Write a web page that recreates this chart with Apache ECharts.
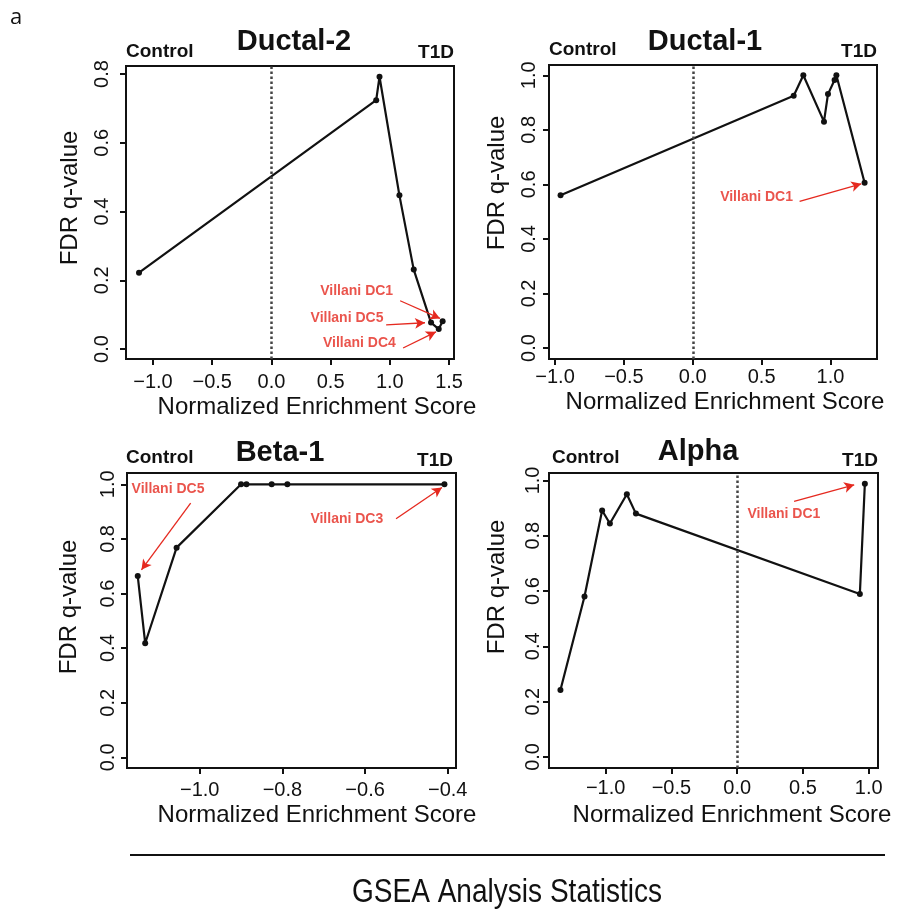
<!DOCTYPE html>
<html>
<head>
<meta charset="utf-8">
<script src="https://cdn.jsdelivr.net/npm/echarts@6/dist/echarts.min.js"></script>
<style>
  html, body { margin: 0; padding: 0; background: #fff; }
  #chart { width: 900px; height: 911px; }
</style>
</head>
<body>
<div id="chart"></div>
<script>
// normalized enrichment score (x) and FDR q-value (y)
const ductal2Nes = [-1.118, 0.885, 0.913, 1.081, 1.202, 1.348, 1.413, 1.446];
const ductal2Fdr = [0.222, 0.724, 0.792, 0.447, 0.231, 0.077, 0.058, 0.081];
const ductal1Nes = [-0.960, 0.733, 0.803, 0.953, 0.982, 1.030, 1.043, 1.248];
const ductal1Fdr = [0.560, 0.925, 1.000, 0.830, 0.931, 0.983, 1.000, 0.606];
const beta1Nes = [-1.150, -1.132, -1.056, -0.900, -0.887, -0.826, -0.788, -0.408];
const beta1Fdr = [0.664, 0.418, 0.768, 1.000, 1.000, 1.000, 1.000, 1.000];
const alphaNes = [-1.344, -1.161, -1.027, -0.968, -0.839, -0.770, 0.933, 0.971];
const alphaFdr = [0.242, 0.580, 0.891, 0.844, 0.950, 0.880, 0.589, 0.988];

// tick labels
const ticksHalf = [-1.0, -0.5, 0.0, 0.5, 1.0];
const ticksHalfWide = [-1.0, -0.5, 0.0, 0.5, 1.0, 1.5];
const ticksBetaX = [-1.0, -0.8, -0.6, -0.4];
const ticksFdr08 = [0.0, 0.2, 0.4, 0.6, 0.8];
const ticksFdr10 = [0.0, 0.2, 0.4, 0.6, 0.8, 1.0];

const FONT = "'Liberation Sans', Arial, sans-serif";
const RED = "#e5291f";

const panels = [
  {
    title: "Ductal-2", nes: ductal2Nes, fdr: ductal2Fdr,
    xTicks: ticksHalfWide, yTicks: ticksFdr08, zeroLine: true,
    grid: { left: 126, top: 66, width: 328, height: 293 },
    xRange: [-1.228, 1.542], yRange: [-0.029, 0.8233],
    xMargin: 13, yMargin: 14,
    titlePos: [294, 42], controlPos: [126, 52], t1dPos: [454, 53],
    xNamePos: [317, 407], yNamePos: [70, 198],
    notes: [
      { text: "Villani DC1", at: [1.028, 0.169], side: "left", from: [1.087, 0.1405], to: [1.424, 0.089] },
      { text: "Villani DC5", at: [0.946, 0.090], side: "left", from: [0.969, 0.070], to: [1.297, 0.0765] },
      { text: "Villani DC4", at: [1.051, 0.017], side: "left", from: [1.112, 0.003], to: [1.390, 0.050] }
    ]
  },
  {
    title: "Ductal-1", nes: ductal1Nes, fdr: ductal1Fdr,
    xTicks: ticksHalf, yTicks: ticksFdr10, zeroLine: true,
    grid: { left: 549, top: 65, width: 328, height: 294 },
    xRange: [-1.044, 1.338], yRange: [-0.0403, 1.0378],
    xMargin: 8, yMargin: 10,
    titlePos: [705, 42], controlPos: [549, 50], t1dPos: [877, 52],
    xNamePos: [725, 402], yNamePos: [497, 183],
    notes: [
      { text: "Villani DC1", at: [0.728, 0.554], side: "left", from: [0.776, 0.538], to: [1.224, 0.602] }
    ]
  },
  {
    title: "Beta-1", nes: beta1Nes, fdr: beta1Fdr,
    xTicks: ticksBetaX, yTicks: ticksFdr10, zeroLine: false,
    grid: { left: 127, top: 473, width: 329, height: 295 },
    xRange: [-1.176, -0.380], yRange: [-0.0389, 1.0414],
    xMargin: 12, yMargin: 9,
    titlePos: [280, 453], controlPos: [126, 458], t1dPos: [453, 461],
    xNamePos: [317, 815], yNamePos: [69, 607],
    notes: [
      { text: "Villani DC5", at: [-1.165, 0.981], side: "right", from: [-1.022, 0.931], to: [-1.141, 0.687] },
      { text: "Villani DC3", at: [-0.556, 0.871], side: "left", from: [-0.525, 0.874], to: [-0.414, 0.988] }
    ]
  },
  {
    title: "Alpha", nes: alphaNes, fdr: alphaFdr,
    xTicks: ticksHalf, yTicks: ticksFdr10, zeroLine: true,
    grid: { left: 549, top: 473, width: 329, height: 295 },
    xRange: [-1.431, 1.071], yRange: [-0.0399, 1.0268],
    xMargin: 10, yMargin: 6,
    titlePos: [698, 452], controlPos: [552, 458], t1dPos: [878, 461],
    xNamePos: [732, 815], yNamePos: [497, 587],
    notes: [
      { text: "Villani DC1", at: [0.078, 0.879], side: "right", from: [0.433, 0.924], to: [0.890, 0.984] }
    ]
  }
];

function fmt(v) {
  return (v < 0 ? "\u2212" : "") + Math.abs(v).toFixed(1);
}

const grids = [], xAxes = [], yAxes = [], series = [], graphics = [];

panels.forEach((p, i) => {
  grids.push(Object.assign({ show: true, borderColor: "#111", borderWidth: 2, backgroundColor: "transparent" }, p.grid));

  xAxes.push({
    type: "value", gridIndex: i, min: p.xRange[0], max: p.xRange[1],
    position: "bottom",
    splitLine: { show: false },
    axisLine: { show: false, onZero: false },
    axisTick: { show: true, inside: false, customValues: p.xTicks, length: 6, lineStyle: { color: "#111", width: 2 } },
    axisLabel: { customValues: p.xTicks, formatter: fmt, fontFamily: FONT, fontSize: 20, color: "#111", margin: p.xMargin }
  });
  yAxes.push({
    type: "value", gridIndex: i, min: p.yRange[0], max: p.yRange[1],
    position: "left",
    splitLine: { show: false },
    axisLine: { show: false, onZero: false },
    axisTick: { show: true, inside: false, customValues: p.yTicks, length: 6, lineStyle: { color: "#111", width: 2 } },
    axisLabel: { customValues: p.yTicks, formatter: fmt, rotate: 90, fontFamily: FONT, fontSize: 20, color: "#111", margin: p.yMargin }
  });

  const line = {
    type: "line", xAxisIndex: i, yAxisIndex: i,
    data: p.nes.map((x, k) => [x, p.fdr[k]]),
    symbol: "circle", symbolSize: 6,
    itemStyle: { color: "#111" },
    lineStyle: { color: "#111", width: 2.2 },
    silent: true, animation: false, z: 3
  };
  if (p.zeroLine) {
    line.markLine = {
      silent: true, symbol: "none", animation: false,
      label: { show: false },
      lineStyle: { type: [2.5, 2.5], color: "#444", width: 2.5 },
      data: [{ xAxis: 0 }]
    };
  }
  series.push(line);

  // red annotation labels with arrows
  series.push({
    type: "scatter", xAxisIndex: i, yAxisIndex: i,
    symbolSize: 0, silent: true, animation: false,
    data: p.notes.map(n => ({
      value: n.at, name: n.text,
      label: { show: true, position: n.side, distance: 0, formatter: "{b}",
               color: RED, fontFamily: FONT, fontWeight: "bold", fontSize: 14 }
    })),
    markLine: {
      silent: true, animation: false,
      symbol: ["none", "arrow"], symbolSize: [8, 10],
      label: { show: false },
      lineStyle: { color: RED, width: 1.3, type: "solid" },
      data: p.notes.map(n => [{ coord: n.from }, { coord: n.to }])
    }
  });

  graphics.push(
    { type: "text", x: p.titlePos[0], y: p.titlePos[1],
      style: { text: p.title, font: "bold 29px " + FONT, fill: "#111", align: "center", verticalAlign: "middle" } },
    { type: "text", x: p.controlPos[0], y: p.controlPos[1],
      style: { text: "Control", font: "bold 19px " + FONT, fill: "#111", align: "left", verticalAlign: "middle" } },
    { type: "text", x: p.t1dPos[0], y: p.t1dPos[1],
      style: { text: "T1D", font: "bold 19px " + FONT, fill: "#111", align: "right", verticalAlign: "middle" } },
    { type: "text", x: p.xNamePos[0], y: p.xNamePos[1],
      style: { text: "Normalized Enrichment Score", font: "24px " + FONT, fill: "#111", align: "center", verticalAlign: "middle" } },
    { type: "text", x: p.yNamePos[0], y: p.yNamePos[1], rotation: Math.PI / 2,
      style: { text: "FDR q-value", font: "24px " + FONT, fill: "#111", align: "center", verticalAlign: "middle" } }
  );
});

graphics.push(
  { type: "text", x: 16, y: 18,
    style: { text: "a", font: "22px 'Open Sans', " + FONT, fill: "#111", align: "center", verticalAlign: "middle" } },
  { type: "line", shape: { x1: 130, y1: 855, x2: 885, y2: 855 }, style: { stroke: "#111", lineWidth: 2 } },
  { type: "text", x: 507, y: 893, scaleX: 0.85,
    style: { text: "GSEA Analysis Statistics", font: "33px " + FONT, fill: "#111", align: "center", verticalAlign: "middle" } }
);

const chart = echarts.init(document.getElementById("chart"), null, { renderer: "canvas" });
chart.setOption({
  backgroundColor: "#fff",
  animation: false,
  grid: grids,
  xAxis: xAxes,
  yAxis: yAxes,
  series: series,
  graphic: graphics
});
</script>
</body>
</html>
